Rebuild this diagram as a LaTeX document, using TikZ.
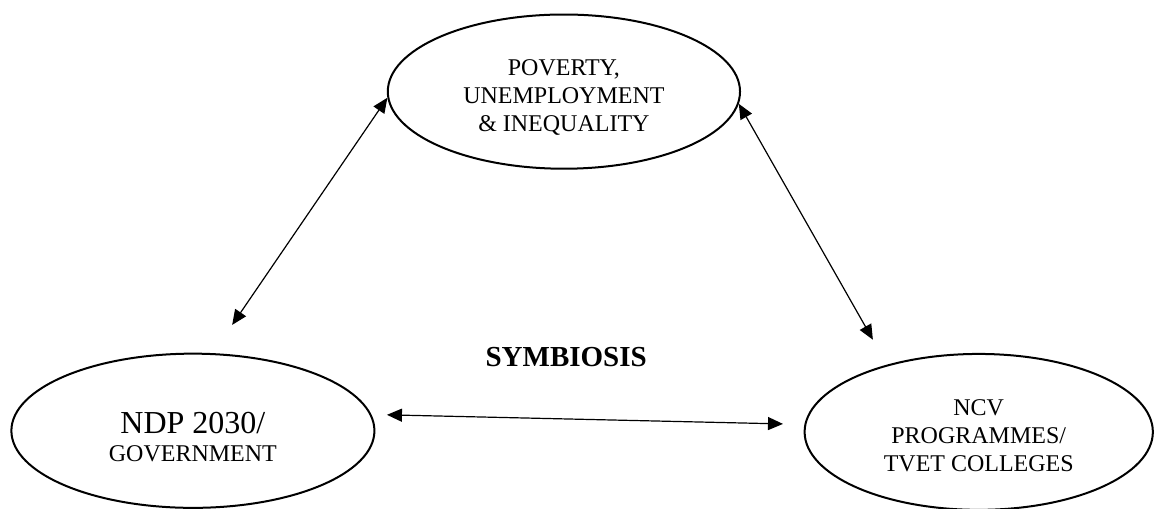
\documentclass[tikz,border=0pt]{standalone}
\usepackage{fontspec}
\setmainfont{Liberation Serif}
\usepackage{tikz}
\usetikzlibrary{shapes.geometric,arrows.meta}

\tikzset{
  bubble/.style={ellipse, draw, line width=1pt, inner sep=0pt, align=center,
    font=\fontsize{12}{14}\selectfont},
  link/.style={{Triangle[length=7.5pt,width=6.5pt]}-{Triangle[length=7.5pt,width=6.5pt]}, line width=0.6pt}
}

\begin{document}
\begin{tikzpicture}[scale=1]
  \useasboundingbox (0,0) rectangle (20.28,8.94);

  % Ellipses
  \node[bubble, minimum width=6.19cm, minimum height=2.71cm] (pov) at (9.91,7.33)
    {\rule{0pt}{14pt}POVERTY,\\UNEMPLOYMENT\\\& INEQUALITY};
  \node[bubble, minimum width=6.38cm, minimum height=2.71cm] (ndp) at (3.39,1.37)
    {\rule{0pt}{17pt}{\fontsize{16}{18}\selectfont NDP 2030/}\\GOVERNMENT};
  \node[bubble, minimum width=6.12cm, minimum height=2.74cm] (ncv) at (17.20,1.35)
    {\rule{0pt}{11.5pt}NCV\\PROGRAMMES/\\TVET COLLEGES};

  % Centre label
  \node[font=\fontsize{14.5}{17}\selectfont\bfseries] (sym) at (9.95,2.67) {SYMBIOSIS};

  % Free ends
  \coordinate (ndpend) at (4.08,3.23);
  \coordinate (ncvend) at (15.34,2.97);
  \coordinate (hleft) at (6.80,1.65);
  \coordinate (hright) at (13.76,1.49);

  % Arrows
  \draw[link] (pov.182) -- (ndpend);
  \draw[link] (pov.-4) -- (ncvend);
  \draw[link] (hleft) -- (hright);
\end{tikzpicture}
\end{document}
